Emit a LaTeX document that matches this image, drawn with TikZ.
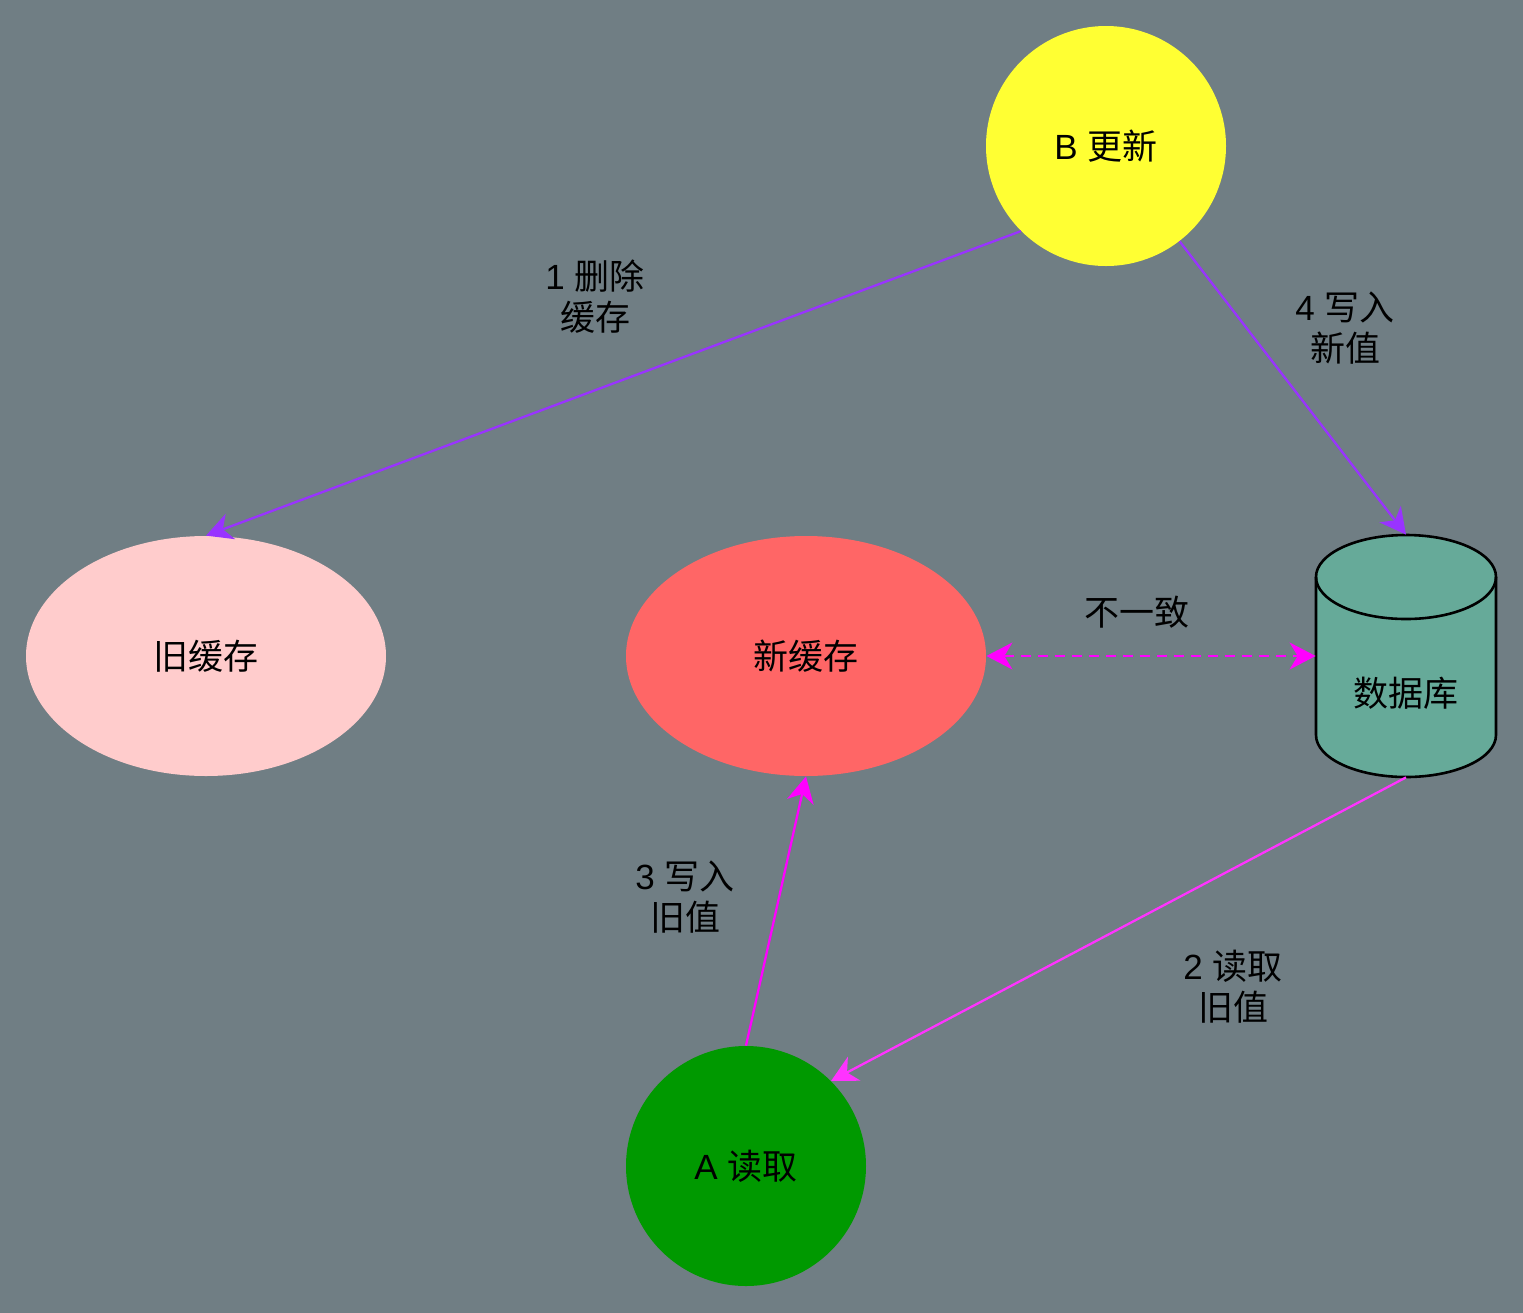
\documentclass[tikz,border=0pt]{standalone}
\usepackage{fontspec}
\setmainfont{Liberation Sans}
\newfontfamily\cjk{Noto Sans CJK SC}
\newcommand{\zh}[1]{{\cjk #1}}
\usetikzlibrary{shapes.geometric,arrows.meta}
\definecolor{bgc}{HTML}{707E84}
\definecolor{bcol}{HTML}{FFFF33}
\definecolor{oldc}{HTML}{FFCCCC}
\definecolor{newc}{HTML}{FF6666}
\definecolor{dbc}{HTML}{66AA99}
\definecolor{acol}{HTML}{009900}
\definecolor{purp}{HTML}{9933FF}
\definecolor{mag}{HTML}{FF00FF}
\definecolor{mag2}{HTML}{FF33FF}
\tikzset{
  every node/.style={font=\fontsize{17.5pt}{20.5pt}\selectfont, text=black},
  circ/.style={circle, minimum size=120pt, inner sep=0pt},
  ell/.style={ellipse, minimum width=180pt, minimum height=120pt, inner sep=0pt},
  conn/.style={line width=1.15pt, -{Stealth[length=13pt, width=13.5pt, inset=4pt]}},
  lbl/.style={align=center, inner sep=0pt}
}
\begin{document}
\begin{tikzpicture}[x=0.5pt, y=-0.5pt]
\fill[bgc] (0,0) rectangle (1523,1313);
\useasboundingbox (0,0) rectangle (1523,1313);

\node[circ, fill=bcol] (B) at (1106,146) {B \zh{更新}};
\node[ell, fill=oldc] (old) at (206,656) {\zh{旧缓存}};
\node[ell, fill=newc] (new) at (806,656) {\zh{新缓存}};
\node[circ, fill=acol] (A) at (746,1166) {A \zh{读取}};

% database cylinder
\node[rectangle, minimum width=90pt, minimum height=121pt, inner sep=0pt] (db) at (1406,656) {};
\draw[fill=dbc, line width=1.3pt] (1316,577) -- (1316,735) arc (180:360:45pt and 21pt) -- (1496,577) arc (0:180:45pt and 21pt) -- cycle;
\draw[line width=1.3pt] (1316,577) arc (180:360:45pt and 21pt);
\node (dbtext) at (1406,693) {\zh{数据库}};

% connectors
\draw[conn, purp] (B.-135) -- (old.north);
\draw[conn, purp] (B) -- (db.north);
\draw[conn, mag2] (db.south) -- (A.45);
\draw[conn, mag] (A.north) -- (new.south);
\draw[line width=1.15pt, mag, dash pattern=on 5pt off 3.5pt, {Stealth[length=13pt, width=13.5pt, inset=4pt]}-{Stealth[length=13pt, width=13.5pt, inset=4pt]}] (new.east) -- (db.west);

% labels
\node[lbl] (l1) at (595,297) {1 \zh{删除}\\\zh{缓存}};
\node[lbl] (l4) at (1345,328) {4 \zh{写入}\\\zh{新值}};
\node[lbl] (lx) at (1137,612) {\zh{不一致}};
\node[lbl] (l2) at (1233,987) {2 \zh{读取}\\\zh{旧值}};
\node[lbl] (l3) at (685,897) {3 \zh{写入}\\\zh{旧值}};
\end{tikzpicture}
\end{document}
